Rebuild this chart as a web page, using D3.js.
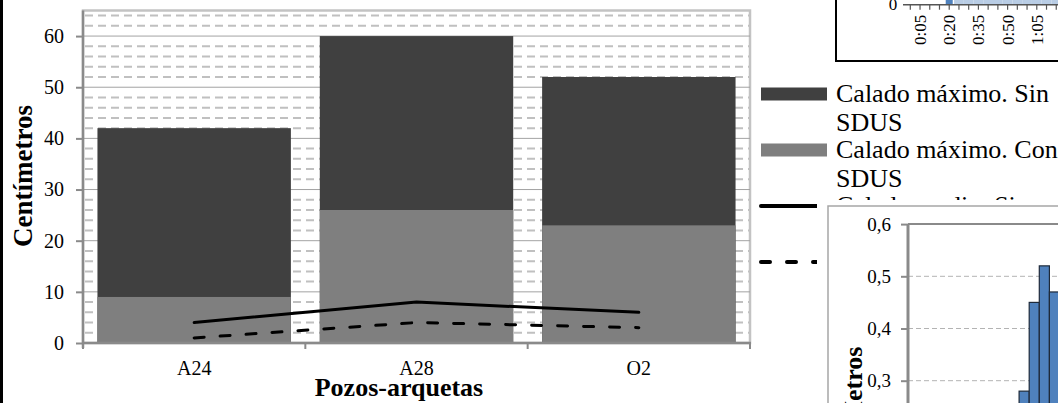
<!DOCTYPE html>
<html>
<head>
<meta charset="utf-8">
<script src="https://cdn.jsdelivr.net/npm/d3@7"></script>
<style>
  html, body { margin: 0; padding: 0; background: #fff; }
  svg { display: block; }
  text { font-family: "Liberation Serif", "Times New Roman", serif; fill: #000; }
</style>
</head>
<body>
<svg id="chart" width="1058" height="403"></svg>
<script>
// Main chart: maximum and mean water depth (cm) per manhole
const categories = ["A24", "A28", "O2"];
const maxSinSDUS = [42, 60, 52];
const maxConSDUS = [9, 26, 23];
const medSinSDUS = [4, 8, 6];
const medConSDUS = [1, 4, 3];
const yTicks = [0, 10, 20, 30, 40, 50, 60];
const yMinorTicks = [2, 4, 6, 8, 12, 14, 16, 18, 22, 24, 26, 28, 32, 34, 36, 38, 42, 44, 46, 48, 52, 54, 56, 58, 62, 64];
const legendLabels = [
  ["Calado máximo. Sin", "SDUS"],
  ["Calado máximo. Con", "SDUS"],
  ["Calado medio. Sin", "SDUS"],
  ["Calado medio. Con", "SDUS"]
];

// Neighbouring figure (top right): 5-minute rainfall bars
const topTimes = ["0:00","0:05","0:10","0:15","0:20","0:25","0:30","0:35","0:40","0:45","0:50","0:55","1:00","1:05","1:10","1:15"];
const topRainA = [0, 0, 0, 0, 3, 0, 0, 0, 0, 0, 0, 0, 0, 0, 0, 0];
const topRainB = [0, 0, 0, 0, 0, 6, 9, 12, 15, 18, 20, 22, 20, 18, 15, 12];
const topLabelTimes = ["0:05", "0:20", "0:35", "0:50", "1:05"];

// Neighbouring figure (bottom right): depth in metres
const botTimes = ["0:05","0:10","0:15","0:20","0:25","0:30","0:35","0:40","0:45","0:50","0:55","1:00","1:05","1:10","1:15"];
const botDepth = [0.01, 0.02, 0.03, 0.04, 0.05, 0.07, 0.09, 0.11, 0.14, 0.18, 0.23, 0.28, 0.45, 0.52, 0.47];
const botTicks = [0, 0.1, 0.2, 0.3, 0.4, 0.5, 0.6];

const svg = d3.select("#chart");
const W = 1058, H = 403;
const SERIF = "Liberation Serif, Times New Roman, serif";

// clip for the legend: the lower-right figure sits on top of it
svg.append("defs").append("clipPath").attr("id", "legendClip")
  .append("path").attr("d", `M740,60H${W}V200H817V${H}H740Z`);

// ---------- main chart ----------
const plot = { left: 83, right: 750, top: 10.5, bottom: 343 };
const y = d3.scaleLinear().domain([0, 65]).range([plot.bottom, plot.top]);
const x = d3.scaleBand().domain(categories).range([plot.left, plot.right])
  .paddingInner(0.13).paddingOuter(0.065);
const step = x.step();

const g = svg.append("g");

// plot area frame
g.append("rect")
  .attr("x", plot.left).attr("y", plot.top)
  .attr("width", plot.right - plot.left).attr("height", plot.bottom - plot.top)
  .attr("fill", "#fff").attr("stroke", "#c3c3c3").attr("stroke-width", 2.5);

// minor dashed gridlines
g.append("g").selectAll("line").data(yMinorTicks).join("line")
  .attr("x1", plot.left + 2).attr("x2", plot.right - 1)
  .attr("y1", d => y(d)).attr("y2", d => y(d))
  .attr("stroke", "#c0c0c0").attr("stroke-width", 2)
  .attr("stroke-dasharray", "8,5");

// major gridlines
g.append("g").selectAll("line").data(yTicks.filter(d => d > 0)).join("line")
  .attr("x1", plot.left).attr("x2", plot.right)
  .attr("y1", d => y(d)).attr("y2", d => y(d))
  .attr("stroke", "#a3a3a3").attr("stroke-width", 1);

// bars: "sin SDUS" behind, "con SDUS" in front
g.append("g").selectAll("rect").data(categories).join("rect")
  .attr("x", d => x(d)).attr("width", x.bandwidth())
  .attr("y", (d, i) => y(maxSinSDUS[i]))
  .attr("height", (d, i) => y(0) - y(maxSinSDUS[i]))
  .attr("fill", "#404040");
g.append("g").selectAll("rect").data(categories).join("rect")
  .attr("x", d => x(d)).attr("width", x.bandwidth())
  .attr("y", (d, i) => y(maxConSDUS[i]))
  .attr("height", (d, i) => y(0) - y(maxConSDUS[i]))
  .attr("fill", "#7f7f7f");

// mean depth lines
const cx = d => x(d) + x.bandwidth() / 2;
const line = d3.line().x((d, i) => cx(categories[i])).y(d => y(d));
g.append("path").datum(medSinSDUS).attr("d", line)
  .attr("fill", "none").attr("stroke", "#000").attr("stroke-width", 3)
  .attr("stroke-linecap", "round").attr("stroke-linejoin", "round");
g.append("path").datum(medConSDUS).attr("d", line)
  .attr("fill", "none").attr("stroke", "#000").attr("stroke-width", 3)
  .attr("stroke-linecap", "round").attr("stroke-dasharray", "10,16");

// y axis
const yAxis = g.append("g").attr("transform", `translate(${plot.left},0)`)
  .call(d3.axisLeft(y).tickValues(yTicks).tickSize(7).tickPadding(12).tickFormat(d3.format("d")));
yAxis.select(".domain").attr("d", `M0,${plot.top}V${plot.bottom + 5}`)
  .attr("stroke", "#8a8a8a").attr("stroke-width", 2.5);
yAxis.selectAll(".tick line").attr("stroke", "#8a8a8a").attr("stroke-width", 2);
yAxis.selectAll(".tick text").attr("font-size", 20)
  .attr("font-family", SERIF).attr("fill", "#000");

// x axis: ticks at category boundaries
const xBounds = d3.range(categories.length + 1).map(i => plot.left + i * step);
g.append("line").attr("x1", plot.left).attr("x2", plot.right + 1)
  .attr("y1", plot.bottom).attr("y2", plot.bottom)
  .attr("stroke", "#8a8a8a").attr("stroke-width", 2.5);
g.append("g").selectAll("line").data(xBounds).join("line")
  .attr("x1", d => d).attr("x2", d => d)
  .attr("y1", plot.bottom).attr("y2", plot.bottom + 6)
  .attr("stroke", "#8a8a8a").attr("stroke-width", 2);
g.append("g").selectAll("text").data(categories).join("text")
  .attr("x", d => cx(d)).attr("y", 375).attr("font-family", SERIF)
  .attr("text-anchor", "middle").attr("font-size", 20).text(d => d);

// axis titles
g.append("text").attr("x", 399).attr("y", 396).attr("font-family", SERIF)
  .attr("text-anchor", "middle").attr("font-size", 26).attr("font-weight", "bold")
  .text("Pozos-arquetas");
g.append("text").attr("transform", "translate(32,176) rotate(-90)").attr("font-family", SERIF)
  .attr("text-anchor", "middle").attr("font-size", 27).attr("font-weight", "bold")
  .text("Centímetros");

// legend
const legendY = [94, 150, 206, 262];
const lg = svg.append("g").attr("clip-path", "url(#legendClip)");
legendLabels.forEach((lab, i) => {
  const cy = legendY[i];
  if (i < 2) {
    lg.append("rect").attr("x", 761).attr("y", cy - 6.5).attr("width", 66).attr("height", 13)
      .attr("fill", i === 0 ? "#404040" : "#7f7f7f");
  } else {
    lg.append("line").attr("x1", 761).attr("x2", 827).attr("y1", cy).attr("y2", cy)
      .attr("stroke", "#000").attr("stroke-width", 4)
      .attr("stroke-linecap", "round")
      .attr("stroke-dasharray", i === 3 ? "9,17" : null);
  }
  lab.forEach((t, k) => {
    lg.append("text").attr("x", 836).attr("y", cy + 7.5 + k * 29.5)
      .attr("font-family", SERIF).attr("font-size", 26).text(t);
  });
});

// left page rule
svg.append("rect").attr("x", 0).attr("y", 0).attr("width", 3).attr("height", H).attr("fill", "#000");

// ---------- top-right figure ----------
const tg = svg.append("g");
tg.append("rect").attr("x", 836).attr("y", -2).attr("width", W - 836 + 2).attr("height", 63).attr("fill", "#fff");
const tx = d3.scalePoint().domain(topTimes).range([910.3, 910.3 + 9.73 * (topTimes.length - 1)]);
const tStep = tx.step();
const ty = d3.scaleLinear().domain([0, 10]).range([4.7, -40]);
tg.append("g").selectAll("rect").data(topTimes).join("rect")
  .attr("x", d => tx(d) - tStep / 2).attr("width", tStep)
  .attr("y", (d, i) => ty(topRainB[i])).attr("height", (d, i) => ty(0) - ty(topRainB[i]))
  .attr("fill", "#b9cde5");
tg.append("g").selectAll("rect").data(topTimes).join("rect")
  .attr("x", d => tx(d) - 3.5).attr("width", 7)
  .attr("y", (d, i) => ty(topRainA[i])).attr("height", (d, i) => ty(0) - ty(topRainA[i]))
  .attr("fill", "#4f81bd");
tg.append("line").attr("x1", 903).attr("x2", W).attr("y1", ty(0)).attr("y2", ty(0))
  .attr("stroke", "#555").attr("stroke-width", 1.5);
tg.append("g").selectAll("line").data(topTimes).join("line")
  .attr("x1", d => tx(d)).attr("x2", d => tx(d))
  .attr("y1", ty(0)).attr("y2", ty(0) + 5)
  .attr("stroke", "#555").attr("stroke-width", 1.2);
tg.append("text").attr("x", 893).attr("y", ty(0) + 5.5).attr("text-anchor", "middle")
  .attr("font-family", SERIF).attr("font-size", 17).text("0");
tg.append("g").selectAll("text").data(topLabelTimes).join("text")
  .attr("transform", d => `translate(${tx(d) + 6},${ty(0) + 10}) rotate(-90)`)
  .attr("font-family", SERIF).attr("text-anchor", "end").attr("font-size", 17).text(d => d);
tg.append("path").attr("d", `M836,0V61H${W}`)
  .attr("fill", "none").attr("stroke", "#000").attr("stroke-width", 2);

// ---------- bottom-right figure ----------
const bg = svg.append("g");
bg.append("rect").attr("x", 817).attr("y", 200).attr("width", W - 817).attr("height", H - 200).attr("fill", "#fff");
bg.append("path").attr("d", `M828,${H}V206H${W}`)
  .attr("fill", "none").attr("stroke", "#a6a6a6").attr("stroke-width", 1.5);
const bx = d3.scaleBand().domain(botTimes).range([908, 908 + 10.1 * botTimes.length]);
const by = d3.scaleLinear().domain([0, 0.6]).range([537.3, 224.1]);
bg.append("g").selectAll("line").data(botTicks.filter(d => d > 0 && d < 0.6)).join("line")
  .attr("x1", 908).attr("x2", W).attr("y1", d => by(d)).attr("y2", d => by(d))
  .attr("stroke", "#b3b3b3").attr("stroke-width", 1).attr("stroke-dasharray", "5,3");
bg.append("g").selectAll("rect").data(botTimes).join("rect")
  .attr("x", d => bx(d)).attr("width", bx.bandwidth())
  .attr("y", (d, i) => by(botDepth[i])).attr("height", (d, i) => by(0) - by(botDepth[i]))
  .attr("fill", "#4f81bd").attr("stroke", "#1e2a3a").attr("stroke-width", 1.2);
bg.append("line").attr("x1", 908).attr("x2", W).attr("y1", by(0.6)).attr("y2", by(0.6))
  .attr("stroke", "#8a8a8a").attr("stroke-width", 2);
const bAxis = bg.append("g").attr("transform", "translate(908,0)")
  .call(d3.axisLeft(by).tickValues(botTicks).tickSize(7).tickPadding(10)
    .tickFormat(d => d.toFixed(1).replace(".", ",")));
bAxis.select(".domain").attr("d", `M0,${by(0.6)}V${H + 5}`)
  .attr("stroke", "#8a8a8a").attr("stroke-width", 3);
bAxis.selectAll(".tick line").attr("stroke", "#8a8a8a").attr("stroke-width", 2);
bAxis.selectAll(".tick text").attr("font-size", 19)
  .attr("font-family", SERIF).attr("fill", "#000");
bg.append("text").attr("transform", "translate(862,386) rotate(-90)")
  .attr("font-family", SERIF)
  .attr("text-anchor", "middle").attr("font-size", 26).attr("font-weight", "bold")
  .text("Metros");
</script>
</body>
</html>
